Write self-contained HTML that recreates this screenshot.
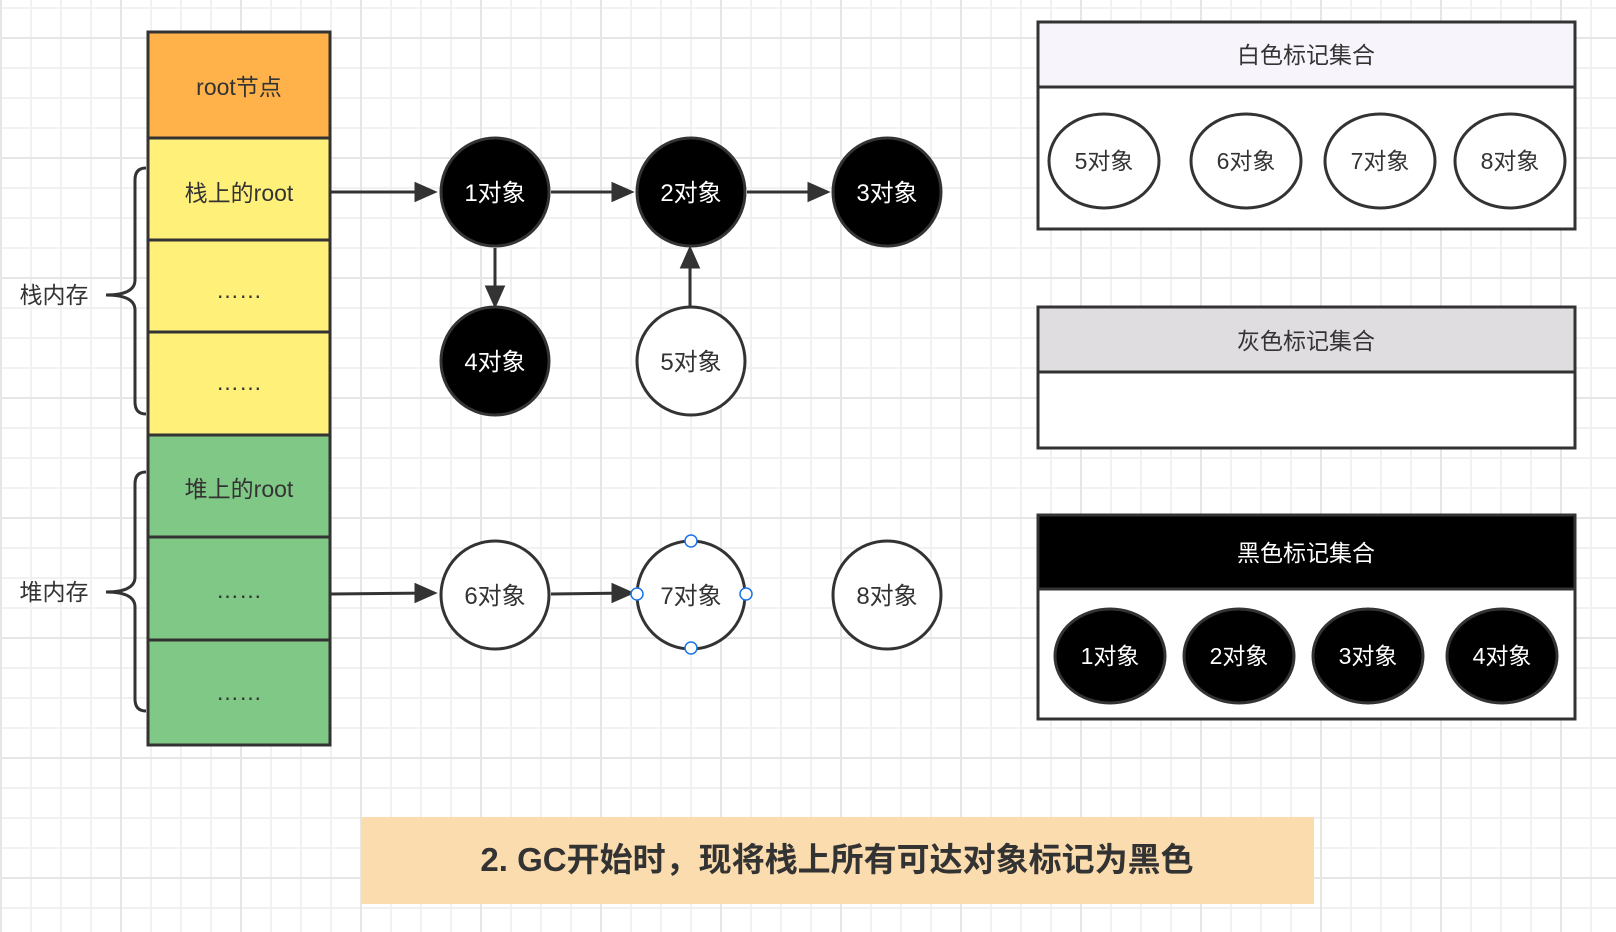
<!DOCTYPE html>
<html><head><meta charset="utf-8"><style>
body{margin:0;width:1616px;height:932px;overflow:hidden;background:#fff;
background-image:
linear-gradient(to right,#e6e6e6 2px,transparent 2px),
linear-gradient(to bottom,#e6e6e6 2px,transparent 2px),
linear-gradient(to right,#f1f1f1 2px,transparent 2px),
linear-gradient(to bottom,#f1f1f1 2px,transparent 2px);
background-size:120px 120px,120px 120px,30px 30px,30px 30px;
background-position:0px 0,0 37px,0px 0,0 7px;}
svg{position:absolute;left:0;top:0}
text{font-family:"Liberation Sans","Noto Sans CJK SC",sans-serif;}
</style></head><body>
<svg width="1616" height="932" viewBox="0 0 1616 932">
<defs><marker id="a" markerWidth="10" markerHeight="10" refX="9" refY="5" orient="auto" markerUnits="userSpaceOnUse"><path d="M0,0 L10,5 L0,10 Z" fill="#333" transform="scale(2.4) translate(-5.5,-2.9)"/></marker></defs>
<g stroke="#333" stroke-width="3">
<rect x="148" y="32" width="182" height="106" fill="#ffb24a"/>
<rect x="148" y="138" width="182" height="102" fill="#fff07a"/>
<rect x="148" y="240" width="182" height="92" fill="#fff07a"/>
<rect x="148" y="332" width="182" height="103" fill="#fff07a"/>
<rect x="148" y="435" width="182" height="102" fill="#80c885"/>
<rect x="148" y="537" width="182" height="103" fill="#80c885"/>
<rect x="148" y="640" width="182" height="105" fill="#80c885"/>
<path d="M146,168 Q135,168 135,180 L135,280 Q135,295 106,295 Q135,295 135,310 L135,402 Q135,414 146,414" fill="none"/>
<path d="M146,472 Q135,472 135,484 L135,577 Q135,592 106,592 Q135,592 135,607 L135,699 Q135,711 146,711" fill="none"/>
</g>
<g font-size="23" fill="#333" text-anchor="middle">
<text x="239" y="95">root节点</text>
<text x="239" y="201">栈上的root</text>
<text x="239" y="298">……</text>
<text x="239" y="390">……</text>
<text x="239" y="497">堆上的root</text>
<text x="239" y="598">……</text>
<text x="239" y="700">……</text>
<text x="54" y="303">栈内存</text>
<text x="54" y="600">堆内存</text>
</g>
<g stroke="#333" stroke-width="3" fill="none">
<path d="M331,192 L434,192"/><path d="M434,192 l-18,-8 v16 z" fill="#333"/>
<path d="M551,192 L631,192"/><path d="M631,192 l-18,-8 v16 z" fill="#333"/>
<path d="M747,192 L827,192"/><path d="M827,192 l-18,-8 v16 z" fill="#333"/>
<path d="M495,248 L495,305"/><path d="M495,305 l-8,-18 h16 z" fill="#333"/>
<path d="M690,306 L690,249"/><path d="M690,249 l-8,18 h16 z" fill="#333"/>
<path d="M331,594 L434,593"/><path d="M434,593 l-18,-8 v16 z" fill="#333"/>
<path d="M551,594 L631,593"/><path d="M631,593 l-18,-8 v16 z" fill="#333"/>
</g>
<g stroke="#333" stroke-width="3">
<circle cx="495" cy="192" r="54" fill="#000"/>
<circle cx="691" cy="192" r="54" fill="#000"/>
<circle cx="887" cy="192" r="54" fill="#000"/>
<circle cx="495" cy="361" r="54" fill="#000"/>
<circle cx="691" cy="361" r="54" fill="#fff"/>
<circle cx="495" cy="595" r="54" fill="#fff"/>
<circle cx="691" cy="595" r="54" fill="#fff"/>
<circle cx="887" cy="595" r="54" fill="#fff"/>
</g>
<g fill="#fff" stroke="#1a73e8" stroke-width="1.5">
<circle cx="691" cy="541" r="6"/><circle cx="691" cy="648" r="6"/><circle cx="637" cy="594" r="6"/><circle cx="746" cy="594" r="6"/>
</g>
<g font-size="24" text-anchor="middle">
<text x="495" y="201" fill="#fff">1对象</text>
<text x="691" y="201" fill="#fff">2对象</text>
<text x="887" y="201" fill="#fff">3对象</text>
<text x="495" y="370" fill="#fff">4对象</text>
<text x="691" y="370" fill="#333">5对象</text>
<text x="495" y="604" fill="#333">6对象</text>
<text x="691" y="604" fill="#333">7对象</text>
<text x="887" y="604" fill="#333">8对象</text>
</g>
<g stroke="#333" stroke-width="3">
<rect x="1038" y="22" width="537" height="65" fill="#f8f4fc"/>
<rect x="1038" y="87" width="537" height="142" fill="#fff"/>
<rect x="1038" y="307" width="537" height="65" fill="#e0dde0"/>
<rect x="1038" y="372" width="537" height="76" fill="#fff"/>
<rect x="1038" y="515" width="537" height="74" fill="#000"/>
<rect x="1038" y="589" width="537" height="130" fill="#fff"/>
<ellipse cx="1104" cy="161" rx="55" ry="47" fill="#fff"/>
<ellipse cx="1246" cy="161" rx="55" ry="47" fill="#fff"/>
<ellipse cx="1380" cy="161" rx="55" ry="47" fill="#fff"/>
<ellipse cx="1510" cy="161" rx="55" ry="47" fill="#fff"/>
<ellipse cx="1110" cy="656" rx="55" ry="47" fill="#000"/>
<ellipse cx="1239" cy="656" rx="55" ry="47" fill="#000"/>
<ellipse cx="1368" cy="656" rx="55" ry="47" fill="#000"/>
<ellipse cx="1502" cy="656" rx="55" ry="47" fill="#000"/>
</g>
<g font-size="23" text-anchor="middle">
<text x="1306" y="63" fill="#333">白色标记集合</text>
<text x="1306" y="349" fill="#333">灰色标记集合</text>
<text x="1306" y="561" fill="#fff">黑色标记集合</text>
<text x="1104" y="169" fill="#333">5对象</text>
<text x="1246" y="169" fill="#333">6对象</text>
<text x="1380" y="169" fill="#333">7对象</text>
<text x="1510" y="169" fill="#333">8对象</text>
<text x="1110" y="664" fill="#fff">1对象</text>
<text x="1239" y="664" fill="#fff">2对象</text>
<text x="1368" y="664" fill="#fff">3对象</text>
<text x="1502" y="664" fill="#fff">4对象</text>
</g>
<rect x="361" y="817" width="953" height="87" fill="#fbdcae"/>
<text x="837" y="871" font-size="33" font-weight="bold" fill="#333" text-anchor="middle">2. GC开始时，现将栈上所有可达对象标记为黑色</text>
</svg>
</body></html>
